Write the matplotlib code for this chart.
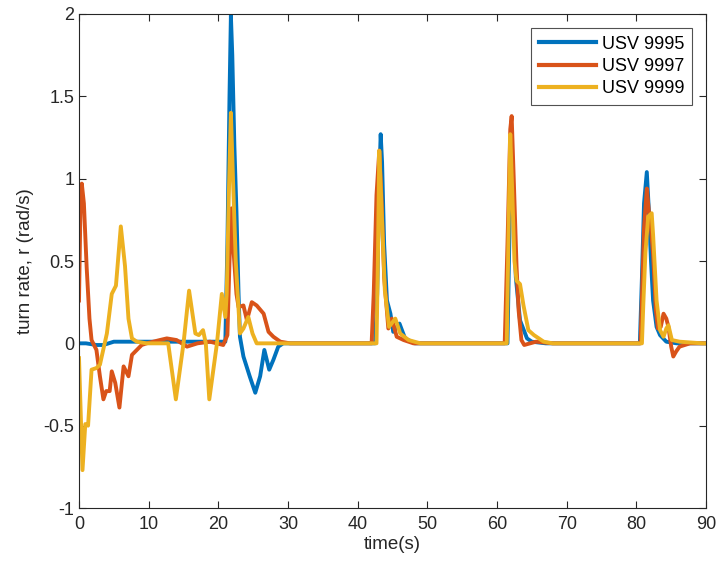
import matplotlib.pyplot as plt
from matplotlib.ticker import FuncFormatter

plt.rcParams['font.family'] = ['Liberation Sans', 'DejaVu Sans']
plt.rcParams['axes.unicode_minus'] = False

# values (time in s, turn rate in rad/s)
t_9995 = [0, 1, 2.5, 3.5, 5, 8, 12, 16, 20, 21.0, 21.3, 21.6, 21.8, 22.0, 22.3, 22.6, 22.9,
          23.1, 23.6, 24.5, 25.3, 26.0, 26.6, 27.3, 27.9, 28.6, 29.3,
          42.5, 42.8, 43.1, 43.3, 43.5, 43.8, 44.2, 44.7, 45.1, 45.6, 46.0, 46.8, 48.2,
          61.5, 61.8, 62.0, 62.3, 62.7, 63.3, 64.3, 65.0, 67.0,
          80.5, 80.8, 81.1, 81.5, 81.8, 82.1, 82.4, 82.9, 83.4, 84.3, 85.8, 90]
r_9995 = [0, 0, -0.01, -0.01, 0.01, 0.01, 0.01, 0.01, 0.01, 0.01, 0.6, 1.5, 1.99, 1.75, 1.2, 0.8, 0.3,
          0.04, -0.08, -0.2, -0.30, -0.2, -0.04, -0.16, -0.1, -0.02, 0,
          0, 0.3, 1.0, 1.27, 1.1, 0.6, 0.26, 0.18, 0.07, 0.1, 0.12, 0.03, 0,
          0, 0.7, 1.27, 0.9, 0.4, 0.14, 0.03, 0.01, 0,
          0, 0.4, 0.85, 1.04, 0.8, 0.5, 0.26, 0.1, 0.05, 0.01, 0, 0]

t_9997 = [0, 0.2, 0.4, 0.7, 1.1, 1.5, 1.8, 2.5, 3.0, 3.5, 3.9, 4.4, 4.7, 5.2, 5.8, 6.4, 7.1, 7.6,
          8.3, 9.0, 9.7, 11.6, 12.6, 14.0, 15.5, 17, 18.8, 20.7, 21.3, 21.6, 21.9, 22.2, 22.6,
          22.9, 23.6, 24.1, 24.8, 25.5, 26.5, 27.2, 27.9, 28.9, 30.3,
          42.0, 42.3, 42.7, 43.1, 43.4, 43.8, 44.4, 44.9, 45.6, 46.6, 48.0,
          61.1, 61.5, 61.9, 62.1, 62.4, 62.8, 63.1, 63.5, 63.9, 65.6, 68.0,
          80.6, 80.8, 81.1, 81.5, 81.8, 82.0, 82.4, 82.8, 83.1, 83.5, 83.9, 84.3, 84.6, 85.0,
          85.3, 85.7, 86.2, 87.7, 90]
r_9997 = [0.26, 0.8, 0.97, 0.85, 0.46, 0.15, 0.02, -0.04, -0.2, -0.34, -0.29, -0.29, -0.17, -0.24,
          -0.39, -0.14, -0.2, -0.07, -0.04, -0.01, 0, 0.02, 0.03, 0.02, -0.02, 0, 0.01, -0.01, 0.05,
          0.5, 0.82, 0.55, 0.3, 0.22, 0.23, 0.14, 0.25, 0.23, 0.18, 0.07, 0.04, 0.01, 0,
          0, 0.3, 0.9, 1.17, 0.9, 0.4, 0.09, 0.15, 0.04, 0.02, 0,
          0, 0.6, 1.3, 1.38, 1.0, 0.47, 0.2, 0.02, -0.01, 0.01, 0,
          0, 0.28, 0.7, 0.94, 0.8, 0.75, 0.54, 0.2, 0.09, 0.1, 0.18, 0.15, 0.1, -0.02,
          -0.08, -0.05, -0.02, 0, 0]

t_9999 = [0, 0.5, 0.9, 1.3, 1.8, 2.5, 3.0, 4.0, 4.7, 5.3, 6.0, 6.6, 7.1, 7.6, 8.3, 9.7, 12.8,
          13.9, 15.0, 15.8, 16.7, 17.2, 17.8, 18.2, 18.7, 19.8, 20.5, 21.0, 21.2, 21.5, 21.8,
          22.1, 22.5, 23.1, 23.6, 24.3, 24.9, 25.5,
          42.7, 42.9, 43.1, 43.4, 43.9, 44.5, 45.4, 46.1, 47.3, 49.0,
          61.4, 61.7, 61.9, 62.2, 62.5, 62.8, 63.3, 63.8, 64.5, 65.3, 66.7, 68.0,
          80.8, 81.0, 81.3, 81.7, 82.2, 82.4, 82.9, 83.4, 83.9, 84.3, 84.6, 85.1, 86.2, 89.5, 90]
r_9999 = [-0.09, -0.77, -0.49, -0.5, -0.16, -0.15, -0.13, 0.06, 0.3, 0.35, 0.71, 0.47, 0.15, 0.03,
          0.01, 0, 0, -0.34, 0, 0.32, 0.06, 0.05, 0.08, 0, -0.34, 0, 0.3, 0.16, 0.3, 0.9, 1.40,
          1.0, 0.5, 0.06, 0.09, 0.16, 0.06, 0,
          0, 0.5, 1.17, 0.85, 0.32, 0.10, 0.15, 0.06, 0.02, 0,
          0, 0.8, 1.27, 0.9, 0.5, 0.38, 0.36, 0.23, 0.08, 0.05, 0.01, 0,
          0, 0.24, 0.55, 0.77, 0.79, 0.66, 0.26, 0.08, 0.04, 0.09, 0.11, 0.02, 0.01, 0, 0]

labels = ['USV 9995', 'USV 9997', 'USV 9999']
colors = ['#0072BD', '#D95319', '#EDB120']

fig = plt.figure(figsize=(7.17, 5.73), dpi=100)
ax = fig.add_axes([0.1102, 0.1134, 0.8745, 0.8622])

series = [(t_9995, r_9995), (t_9997, r_9997), (t_9999, r_9999)]
for (t, r), lab, c in zip(series, labels, colors):
    ax.plot(t, r, color=c, lw=2.8, label=lab, solid_joinstyle='round')

ax.set_xlim(0, 90)
ax.set_ylim(-1, 2)
ax.set_xticks(range(0, 91, 10))
ax.set_yticks([-1, -0.5, 0, 0.5, 1, 1.5, 2])
ax.yaxis.set_major_formatter(FuncFormatter(lambda v, p: '%g' % v))

edge = '#262626'
for s in ax.spines.values():
    s.set_color(edge)
    s.set_linewidth(0.8)
ax.tick_params(direction='in', length=5, width=0.8, colors=edge, labelsize=13,
               top=True, right=True, labelcolor='#262626')
ax.tick_params(axis='x', pad=6)

ax.set_xlabel('time(s)', fontsize=13.5, color='#262626', labelpad=2)
ax.set_ylabel('turn rate, r (rad/s)', fontsize=13.5, color='#262626', labelpad=7)

leg = ax.legend(loc='upper right', fontsize=13, frameon=True, fancybox=False,
                edgecolor=edge, handlelength=3.2, borderaxespad=0.8,
                handletextpad=0.3, labelspacing=0.3, borderpad=0.4)
leg.get_frame().set_linewidth(0.8)
for h in leg.get_lines():
    h.set_linewidth(3)

fig.savefig('out.png', dpi=100)
